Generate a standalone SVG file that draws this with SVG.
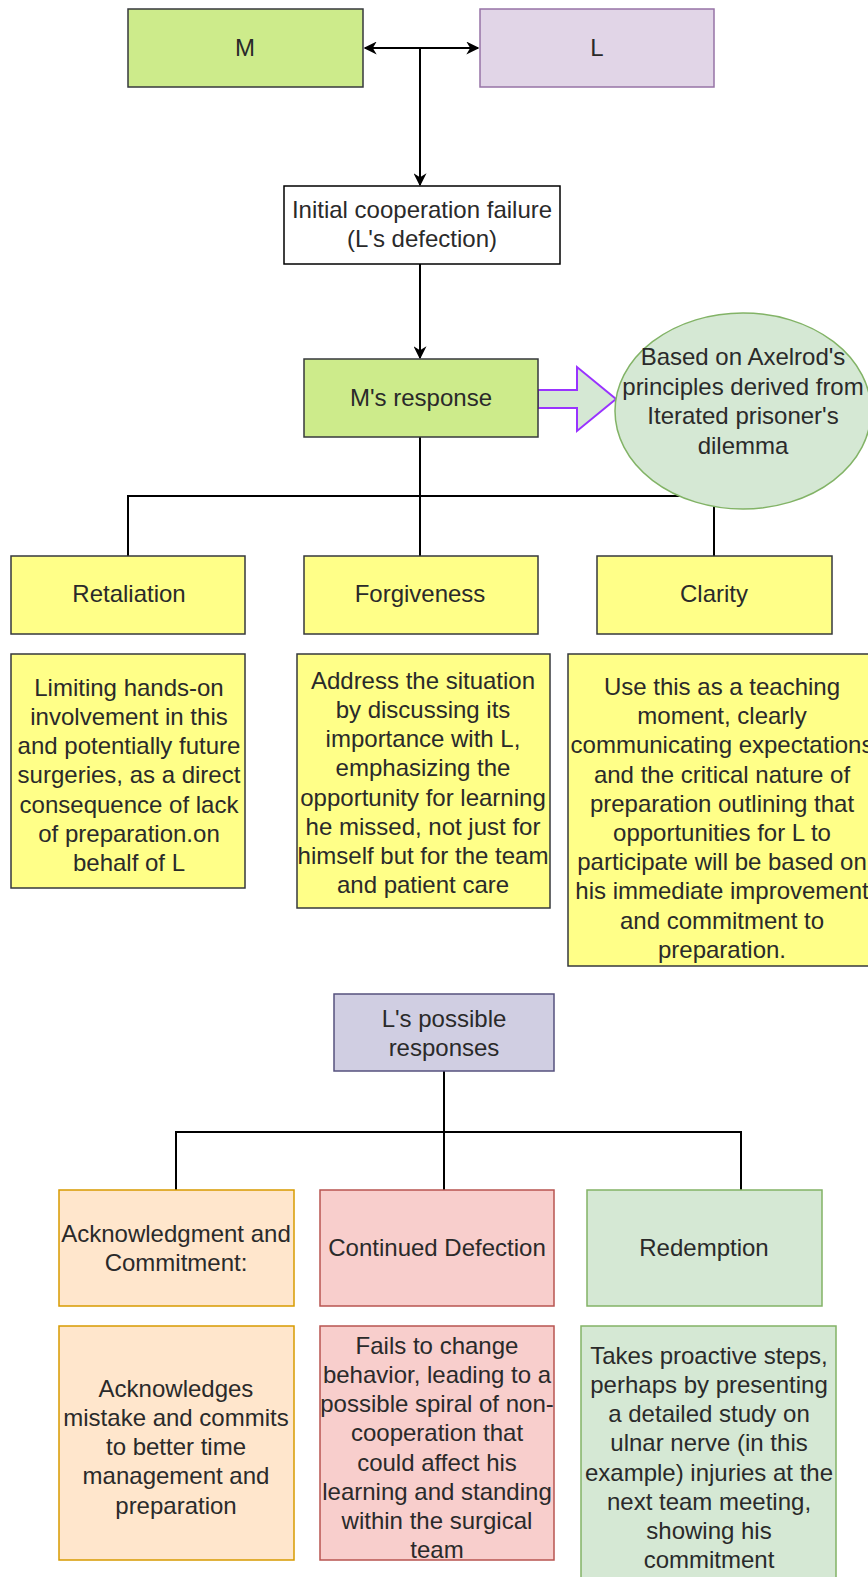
<svg xmlns="http://www.w3.org/2000/svg" width="868" height="1577" viewBox="0 0 868 1577">
<defs>
<style>
.t{font-family:"Liberation Sans",Arial,sans-serif;font-size:24px;fill:#2a2a2a;text-anchor:middle}
.c{fill:none;stroke:#000;stroke-width:2}
.grn{fill:#cdeb8b;stroke:#36393d;stroke-width:1.5}
.pur{fill:#e1d5e7;stroke:#9673a6;stroke-width:1.5}
.wht{fill:#fff;stroke:#000;stroke-width:1.5}
.yel{fill:#ffff88;stroke:#36393d;stroke-width:1.5}
.lav{fill:#d0cee2;stroke:#56517e;stroke-width:1.5}
.org{fill:#ffe6cc;stroke:#d79b00;stroke-width:1.5}
.red{fill:#f8cecc;stroke:#b85450;stroke-width:1.5}
.lg{fill:#d5e8d4;stroke:#82b366;stroke-width:1.5}
</style>
<marker id="ah" viewBox="0 0 10 10" refX="9" refY="5" markerWidth="13" markerHeight="13" markerUnits="userSpaceOnUse" orient="auto-start-reverse">
<path d="M0,0 L10,5 L0,10 L3,5 Z" fill="#000"/>
</marker>
</defs>
<rect width="868" height="1577" fill="#fff"/>

<g id="connectors">
<line class="c" x1="365" y1="48" x2="478" y2="48" marker-start="url(#ah)" marker-end="url(#ah)"/>
<line class="c" x1="420" y1="48" x2="420" y2="185"/>
<line class="c" x1="420" y1="172" x2="420" y2="185" marker-end="url(#ah)"/>
<line class="c" x1="420" y1="264" x2="420" y2="358" marker-end="url(#ah)"/>
<polyline class="c" points="420,437 420,496"/>
<polyline class="c" points="128,556 128,496 714,496 714,556"/>
<line class="c" x1="420" y1="496" x2="420" y2="556"/>
<polyline class="c" points="444,1071 444,1132"/>
<polyline class="c" points="176,1190 176,1132 741,1132 741,1190"/>
<line class="c" x1="444" y1="1132" x2="444" y2="1190"/>
<path id="blockarrow" d="M538,390 L577,390 L577,367 L616,399 L577,431 L577,408 L538,408 Z" fill="#d5e8d4" stroke="#9933ff" stroke-width="2"/>
</g>

<g id="m"><rect class="grn" x="128" y="9" width="235" height="78"/><text class="t" x="245" y="56">M</text></g>
<g id="l"><rect class="pur" x="480" y="9" width="234" height="78"/><text class="t" x="597" y="56">L</text></g>
<g id="initial"><rect class="wht" x="284" y="186" width="276" height="78"/>
<text class="t" x="422" y="218">Initial cooperation failure</text>
<text class="t" x="422" y="247">(L's defection)</text></g>
<g id="mresponse"><rect class="grn" x="304" y="359" width="234" height="78"/><text class="t" x="421" y="406">M's response</text></g>
<g id="axelrod"><ellipse class="lg" cx="743" cy="411" rx="128" ry="98"/>
<text class="t" x="743" y="365">Based on Axelrod's</text>
<text class="t" x="743" y="395">principles derived from</text>
<text class="t" x="743" y="424">Iterated prisoner's</text>
<text class="t" x="743" y="454">dilemma</text></g>

<g id="retaliation"><rect class="yel" x="11" y="556" width="234" height="78"/><text class="t" x="129" y="602">Retaliation</text></g>
<g id="forgiveness"><rect class="yel" x="304" y="556" width="234" height="78"/><text class="t" x="420" y="602">Forgiveness</text></g>
<g id="clarity"><rect class="yel" x="597" y="556" width="235" height="78"/><text class="t" x="714" y="602">Clarity</text></g>

<g id="retaliation-desc"><rect class="yel" x="11" y="654" width="234" height="234"/>
<text class="t" x="129" y="696">Limiting hands-on</text>
<text class="t" x="129" y="725">involvement in this</text>
<text class="t" x="129" y="754">and potentially future</text>
<text class="t" x="129" y="783">surgeries, as a direct</text>
<text class="t" x="129" y="813">consequence of lack</text>
<text class="t" x="129" y="842">of preparation.on</text>
<text class="t" x="129" y="871">behalf of L</text></g>

<g id="forgiveness-desc"><rect class="yel" x="297" y="654" width="253" height="254"/>
<text class="t" x="423" y="689">Address the situation</text>
<text class="t" x="423" y="718">by discussing its</text>
<text class="t" x="423" y="747">importance with L,</text>
<text class="t" x="423" y="776">emphasizing the</text>
<text class="t" x="423" y="806">opportunity for learning</text>
<text class="t" x="423" y="835">he missed, not just for</text>
<text class="t" x="423" y="864">himself but for the team</text>
<text class="t" x="423" y="893">and patient care</text></g>

<g id="clarity-desc"><rect class="yel" x="568" y="654" width="308" height="312"/>
<text class="t" x="722" y="695">Use this as a teaching</text>
<text class="t" x="722" y="724">moment, clearly</text>
<text class="t" x="722" y="753">communicating expectations</text>
<text class="t" x="722" y="783">and the critical nature of</text>
<text class="t" x="722" y="812">preparation outlining that</text>
<text class="t" x="722" y="841">opportunities for L to</text>
<text class="t" x="722" y="870">participate will be based on</text>
<text class="t" x="722" y="899">his immediate improvement</text>
<text class="t" x="722" y="929">and commitment to</text>
<text class="t" x="722" y="958">preparation.</text></g>

<g id="lpossible"><rect class="lav" x="334" y="994" width="220" height="77"/>
<text class="t" x="444" y="1027">L's possible</text>
<text class="t" x="444" y="1056">responses</text></g>

<g id="ack"><rect class="org" x="59" y="1190" width="235" height="116"/>
<text class="t" x="176" y="1242">Acknowledgment and</text>
<text class="t" x="176" y="1271">Commitment:</text></g>
<g id="continued"><rect class="red" x="320" y="1190" width="234" height="116"/><text class="t" x="437" y="1256">Continued Defection</text></g>
<g id="redemption"><rect class="lg" x="587" y="1190" width="235" height="116"/><text class="t" x="704" y="1256">Redemption</text></g>

<g id="ack-desc"><rect class="org" x="59" y="1326" width="235" height="234"/>
<text class="t" x="176" y="1397">Acknowledges</text>
<text class="t" x="176" y="1426">mistake and commits</text>
<text class="t" x="176" y="1455">to better time</text>
<text class="t" x="176" y="1484">management and</text>
<text class="t" x="176" y="1514">preparation</text></g>

<g id="continued-desc"><rect class="red" x="320" y="1326" width="234" height="234"/>
<text class="t" x="437" y="1354">Fails to change</text>
<text class="t" x="437" y="1383">behavior, leading to a</text>
<text class="t" x="437" y="1412">possible spiral of non-</text>
<text class="t" x="437" y="1441">cooperation that</text>
<text class="t" x="437" y="1471">could affect his</text>
<text class="t" x="437" y="1500">learning and standing</text>
<text class="t" x="437" y="1529">within the surgical</text>
<text class="t" x="437" y="1558">team</text></g>

<g id="redemption-desc"><rect class="lg" x="581" y="1326" width="255" height="264"/>
<text class="t" x="709" y="1364">Takes proactive steps,</text>
<text class="t" x="709" y="1393">perhaps by presenting</text>
<text class="t" x="709" y="1422">a detailed study on</text>
<text class="t" x="709" y="1451">ulnar nerve (in this</text>
<text class="t" x="709" y="1481">example) injuries at the</text>
<text class="t" x="709" y="1510">next team meeting,</text>
<text class="t" x="709" y="1539">showing his</text>
<text class="t" x="709" y="1568">commitment</text></g>
</svg>
